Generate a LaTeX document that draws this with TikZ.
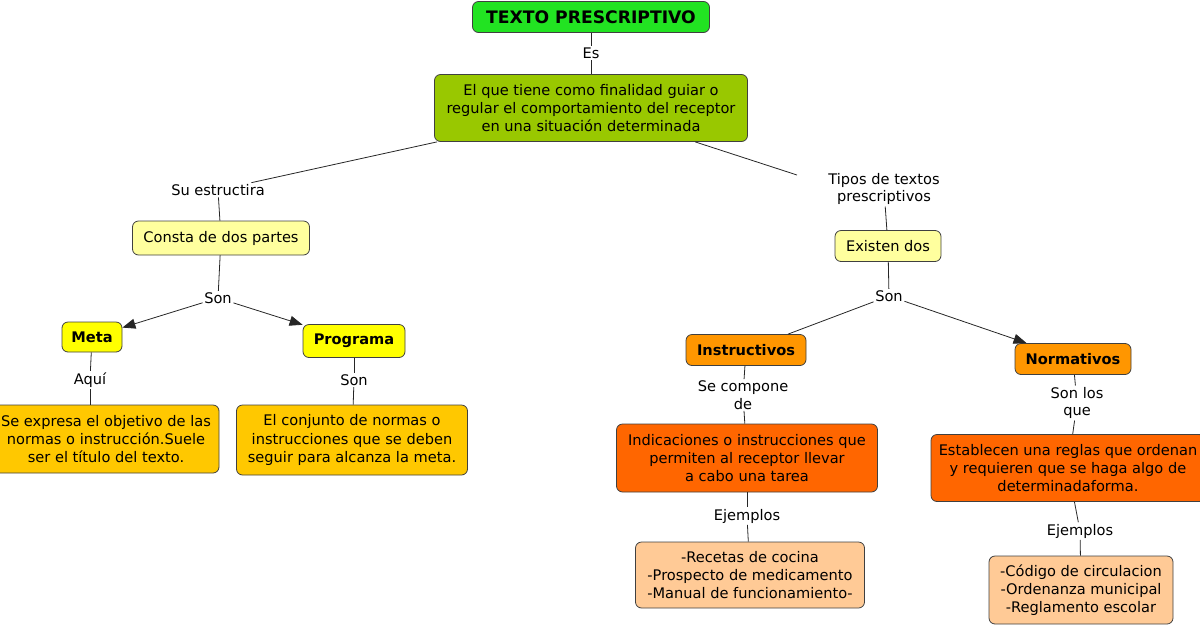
\documentclass[tikz,border=0pt]{standalone}
\usepackage{fontspec}
\setmainfont{DejaVu Sans}
\usetikzlibrary{arrows.meta, positioning}
\definecolor{titlegreen}{HTML}{22E322}
\definecolor{defgreen}{HTML}{99C800}
\definecolor{paleyellow}{HTML}{FFFF9E}
\definecolor{brightyellow}{HTML}{FFFF00}
\definecolor{gold}{HTML}{FFC800}
\definecolor{orange}{HTML}{FF9600}
\definecolor{darkorange}{HTML}{FF6600}
\definecolor{peach}{HTML}{FFCA96}

\begin{document}
\begin{tikzpicture}[x=1pt, y=-1pt,
    box/.style={draw=black!75, line width=0.8pt, rounded corners=6pt, align=center,
                font=\fontsize{14.6}{18.2}\selectfont, inner sep=3pt},
    head/.style={box, font=\fontsize{14.6}{18}\selectfont\bfseries},
    lbl/.style={font=\fontsize{14.6}{17.5}\selectfont, align=center, inner sep=1.5pt},
    link/.style={draw=black!85, line width=0.8pt},
    arr/.style={link, -{Triangle[length=13pt, width=10pt]}}
  ]
  \useasboundingbox (0,0) rectangle (1200,630);
  \clip (0,0) rectangle (1200,630);

  % top
  \node[head, fill=titlegreen, minimum width=237pt, minimum height=31pt,
        font=\fontsize{17.2}{20}\selectfont\bfseries] (title) at (591,17) {TEXTO PRESCRIPTIVO};
  \node[lbl] (es) at (591,53) {Es};
  \node[box, fill=defgreen, minimum width=313pt, minimum height=67pt] (def) at (591,108)
    {El que tiene como finalidad guiar o\\regular el comportamiento del receptor\\en una situación determinada};

  % left branch: estructura
  \node[lbl] (estr) at (218,190) {Su estructira};
  \node[box, fill=paleyellow, minimum width=177pt, minimum height=34pt] (partes) at (221,238) {Consta de dos partes};
  \node[lbl] (son1) at (218,298) {Son};
  \node[head, fill=brightyellow, minimum width=60pt, minimum height=30pt] (meta) at (92,337) {Meta};
  \node[head, fill=brightyellow, minimum width=102pt, minimum height=33pt] (prog) at (354,341) {Programa};
  \node[lbl] (aqui) at (90,380) {Aquí};
  \node[lbl] (son2) at (354,380) {Son};
  \node[box, fill=gold, minimum width=226pt, minimum height=68pt] (metadef) at (106,439)
    {Se expresa el objetivo de las\\normas o instrucción.Suele\\ser el título del texto.};
  \node[box, fill=gold, minimum width=231pt, minimum height=70pt] (progdef) at (352,440)
    {El conjunto de normas o\\instrucciones que se deben\\seguir para alcanza la meta.};

  % right branch: tipos
  \node[lbl] (tipos) at (884,189) {Tipos de textos\\prescriptivos};
  \coordinate (tiposin) at (797,175);
  \node[box, fill=paleyellow, minimum width=106pt, minimum height=31pt] (dos) at (888,246) {Existen dos};
  \node[lbl] (son3) at (889,296) {Son};
  \node[head, fill=orange, minimum width=120pt, minimum height=31pt] (instr) at (746,350) {Instructivos};
  \node[head, fill=orange, minimum width=116pt, minimum height=31pt] (norm) at (1073,359) {Normativos};
  \node[lbl] (compone) at (743,395) {Se compone\\de};
  \node[lbl] (sonlos) at (1077,403) {Son los\\que};
  \node[box, fill=darkorange, minimum width=261pt, minimum height=68pt] (instrdef) at (747,458)
    {Indicaciones o instrucciones que\\permiten al receptor llevar\\a cabo una tarea};
  \node[box, fill=darkorange, minimum width=274pt, minimum height=67pt] (normdef) at (1068,468)
    {Establecen una reglas que ordenan\\y requieren que se haga algo de\\determinadaforma.};
  \node[lbl] (ej1) at (747,516) {Ejemplos};
  \node[lbl] (ej2) at (1080,531) {Ejemplos};
  \node[box, fill=peach, minimum width=229pt, minimum height=66pt] (instrej) at (750,575)
    {-Recetas de cocina\\-Prospecto de medicamento\\-Manual de funcionamiento-};
  \node[box, fill=peach, minimum width=184pt, minimum height=68pt] (normej) at (1081,590)
    {-Código de circulacion\\-Ordenanza municipal\\-Reglamento escolar};

  % connectors
  \draw[link] (title) -- (es);
  \draw[link] (es) -- (def);
  \draw[link] (def) -- (estr);
  \draw[link] (estr) -- (partes);
  \draw[link] (partes) -- (son1);
  \draw[arr] (son1) -- (meta);
  \draw[arr] (son1) -- (prog);
  \draw[link] (meta) -- (aqui);
  \draw[link] (aqui) -- (aqui |- metadef.north);
  \draw[link] (prog) -- (son2);
  \draw[link] (son2) -- (progdef);
  \draw[link] (def) -- (tiposin);
  \draw[link] (tipos) -- (dos);
  \draw[link] (dos) -- (son3);
  \draw[link] (son3) -- (instr);
  \draw[arr] (son3) -- (norm);
  \draw[link] (instr) -- (compone);
  \draw[link] (compone) -- (instrdef);
  \draw[link] (norm) -- (sonlos);
  \draw[link] (sonlos) -- (normdef);
  \draw[link] (instrdef) -- (ej1);
  \draw[link] (ej1) -- (instrej);
  \draw[link] (normdef) -- (ej2);
  \draw[link] (ej2) -- (normej);
\end{tikzpicture}
\end{document}
